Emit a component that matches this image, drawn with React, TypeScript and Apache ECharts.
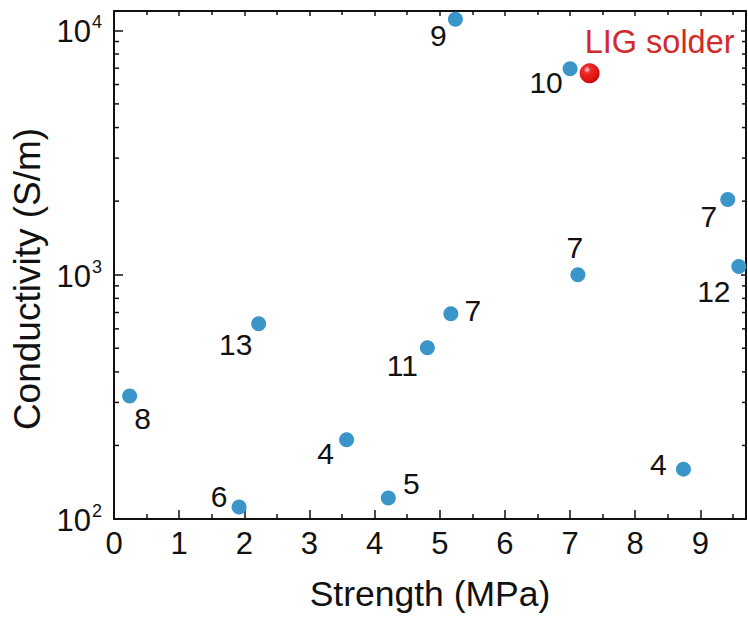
import React, { useEffect, useRef } from "react";
import * as echarts from "echarts";

// Data
const strengths = [0.24, 1.92, 2.22, 3.57, 4.21, 4.81, 5.17, 5.24, 7.0, 7.12, 8.74, 9.42, 9.59];
const conductivities = [319, 112, 630, 211, 122, 502, 692, 11090, 6970, 1000, 160, 2030, 1079];
const refLabels = ["8", "6", "13", "4", "5", "11", "7", "9", "10", "7", "4", "7", "12"];
const ligStrength = [7.3];
const ligConductivity = [6670];
const ligLabel = "LIG solder";
const xAxisName = "Strength (MPa)";
const yAxisName = "Conductivity (S/m)";

// Axis structure
const xTicks = [0, 1, 2, 3, 4, 5, 6, 7, 8, 9];
const yMinorTicks = [200, 300, 400, 500, 600, 700, 800, 900, 2000, 3000, 4000, 5000, 6000, 7000, 8000, 9000];

// Layout: label offsets (px) from each point's centre
const labelOffsets: [number, number][] = [
  [13, 23], [-20, -10], [-23, 21], [-21, 14], [23, -14], [-25, 18], [22, -3],
  [-17, 16], [-24, 14], [-3, -27], [-25, -5], [-19, 17], [-25, 25],
];
const ligLabelOffset: [number, number] = [70, -31];

const FONT = "'Liberation Sans', Arial, Helvetica, sans-serif";

export default function App() {
  const ref = useRef<HTMLDivElement>(null);
  useEffect(() => {
    document.body.style.margin = "0";
    const chart = echarts.init(ref.current!, null, { renderer: "svg" });
    const supFormatter = (v: number) => {
      const e = Math.round(Math.log10(v));
      if (Math.abs(v - Math.pow(10, e)) > 1e-6 * v) return "";
      return `{a|10}{b|${e}}`;
    };
    const intFormatter = (v: number) => (xTicks.includes(v) ? String(v) : "");
    const option: any = {
      animation: false,
      backgroundColor: "#fff",
      textStyle: { fontFamily: FONT },
      grid: { left: 114, right: 2, top: 11, bottom: 105 },
      graphic: [
        {
          type: "text",
          x: 27,
          y: 279,
          rotation: Math.PI / 2,
          style: {
            text: yAxisName,
            fontSize: 37,
            fontFamily: FONT,
            fill: "#111",
            align: "center",
            verticalAlign: "middle",
          },
        },
      ],
      xAxis: [
        {
          type: "value",
          min: 0,
          max: 9.7,
          interval: 1,
          position: "bottom",
          name: xAxisName,
          nameLocation: "middle",
          nameGap: 57,
          nameTextStyle: { fontSize: 35.5, color: "#111", fontFamily: FONT },
          axisLine: { show: true, lineStyle: { color: "#111", width: 2 } },
          axisTick: { show: true, inside: true, length: 9, lineStyle: { color: "#111", width: 1.5 } },
          minorTick: { show: true, splitNumber: 2, length: 5, lineStyle: { color: "#111", width: 1.5 } },
          axisLabel: { fontSize: 31, color: "#111", margin: 9, fontFamily: FONT, formatter: intFormatter, showMaxLabel: false },
          splitLine: { show: false },
        },
        {
          type: "value",
          min: 0,
          max: 9.7,
          interval: 1,
          position: "top",
          axisLine: { show: true, onZero: false, lineStyle: { color: "#111", width: 2 } },
          axisTick: { show: true, inside: true, length: 5, lineStyle: { color: "#111", width: 1.5 } },
          minorTick: { show: true, splitNumber: 2, length: 4, lineStyle: { color: "#111", width: 1.5 } },
          axisLabel: { show: false },
          splitLine: { show: false },
        },
      ],
      yAxis: [
        {
          type: "log",
          logBase: 10,
          min: 100,
          max: 12000,
          position: "left",
          axisLine: { show: true, onZero: false, lineStyle: { color: "#111", width: 2 } },
          axisTick: { show: true, inside: true, length: 9, lineStyle: { color: "#111", width: 1.5 } },
          axisLabel: {
            color: "#111",
            margin: 12,
            formatter: supFormatter,
            rich: {
              a: { fontSize: 31, fontFamily: FONT, color: "#111", lineHeight: 34, verticalAlign: "bottom" },
              b: { fontSize: 18, fontFamily: FONT, color: "#111", lineHeight: 34, verticalAlign: "top", padding: [0, 0, 0, 1] },
            },
          },
          splitLine: { show: false },
        },
        {
          type: "log",
          logBase: 10,
          min: 100,
          max: 12000,
          position: "right",
          axisLine: { show: true, onZero: false, lineStyle: { color: "#111", width: 2 } },
          axisTick: { show: true, inside: true, length: 5, lineStyle: { color: "#111", width: 1.5 } },
          axisLabel: { show: false },
          splitLine: { show: false },
        },
      ],
      series: [
        {
          type: "custom",
          xAxisIndex: 0,
          yAxisIndex: 0,
          clip: false,
          silent: true,
          data: yMinorTicks.map((v) => [0, v]),
          renderItem: (params: any, api: any) => {
            const y = api.coord([0, api.value(1)])[1];
            const cs = params.coordSys;
            const left = cs.x;
            const right = cs.x + cs.width;
            return {
              type: "group",
              children: [
                { type: "line", shape: { x1: left, y1: y, x2: left + 5, y2: y }, style: { stroke: "#111", lineWidth: 1.5 } },
                { type: "line", shape: { x1: right - 4, y1: y, x2: right, y2: y }, style: { stroke: "#111", lineWidth: 1.5 } },
              ],
            };
          },
        },
        {
          type: "scatter",
          xAxisIndex: 0,
          yAxisIndex: 0,
          clip: false,
          symbol: "circle",
          symbolSize: 15,
          itemStyle: { color: "#3a95c8", opacity: 1 },
          data: strengths.map((x, i) => ({
            value: [x, conductivities[i]],
            label: {
              show: true,
              formatter: refLabels[i],
              position: "inside",
              align: "center",
              verticalAlign: "middle",
              offset: labelOffsets[i],
              fontSize: 30,
              color: "#111",
              fontFamily: FONT,
            },
          })),
        },
        {
          type: "scatter",
          xAxisIndex: 0,
          yAxisIndex: 0,
          clip: false,
          symbol: "circle",
          symbolSize: 20,
          itemStyle: {
            opacity: 1,
            color: {
              type: "radial",
              x: 0.38,
              y: 0.32,
              r: 0.7,
              colorStops: [
                { offset: 0, color: "#ffd8d8" },
                { offset: 0.25, color: "#f02a2a" },
                { offset: 0.8, color: "#dd1010" },
                { offset: 1, color: "#b80808" },
              ],
            },
          },
          data: ligStrength.map((x, i) => ({
            value: [x, ligConductivity[i]],
            label: {
              show: true,
              formatter: ligLabel,
              position: "inside",
              align: "center",
              verticalAlign: "middle",
              offset: ligLabelOffset,
              fontSize: 32.5,
              color: "#d02a2a",
              fontFamily: FONT,
            },
          })),
        },
      ],
    };
    chart.setOption(option);
    return () => chart.dispose();
  }, []);
  return <div ref={ref} style={{ width: 748, height: 624 }} />;
}
